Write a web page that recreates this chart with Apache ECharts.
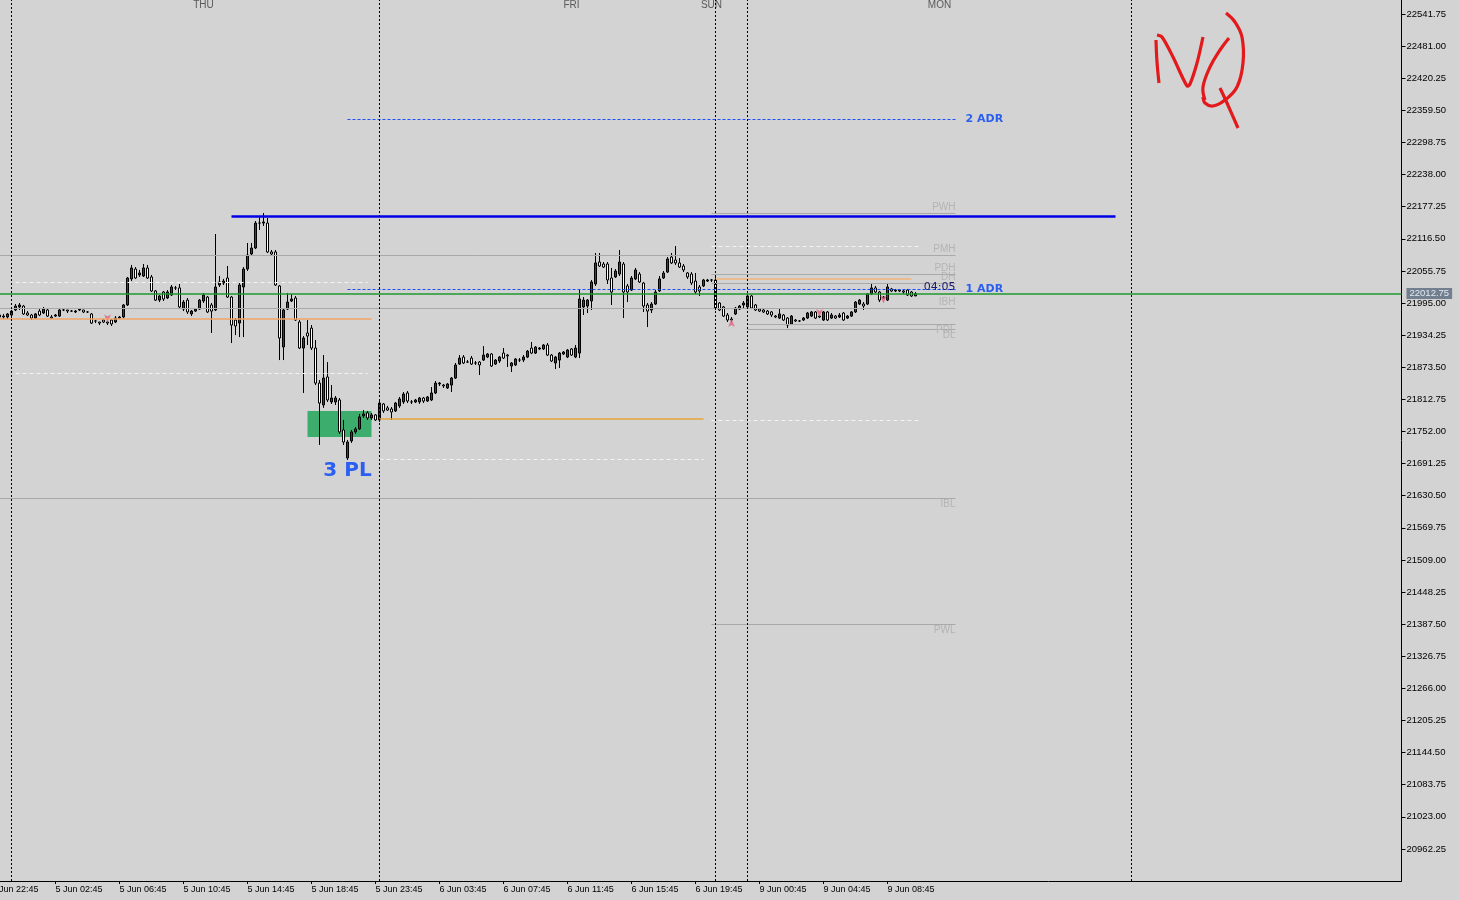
<!DOCTYPE html>
<html><head><meta charset="utf-8">
<script src="https://cdn.jsdelivr.net/npm/echarts@6/dist/echarts.min.js"></script>
<style>html,body{margin:0;padding:0;background:#d3d3d3;overflow:hidden;width:1459px;height:900px;position:relative}#c{position:absolute;left:-20px;top:0;width:1479px;height:900px}</style>
</head><body><div id="c"></div>
<script>
// ---- bar slots (15-minute bars); slot 0 = 4 Jun 22:45 ----
const slotCount = 353;
const firstBar = 2;
const tickStep = 16;
const tickLabels = ['4 Jun 22:45','5 Jun 02:45','5 Jun 06:45','5 Jun 10:45','5 Jun 14:45','5 Jun 18:45','5 Jun 23:45','6 Jun 03:45','6 Jun 07:45','6 Jun 11:45','6 Jun 15:45','6 Jun 19:45','9 Jun 00:45','9 Jun 04:45','9 Jun 08:45'];
const dayNames = ['THU','FRI','SUN','MON'];
const dayNameSlots = [53,145,180,237];
const separatorSlots = [5,97,181,189,285];

// ---- OHLC ----
const opens = [
21972.25,21968.5,21968.5,21972.25,21981.75,21987.5,21989.25,21976,21972.25,21966.5,
21979.75,21976,21981.75,21968.5,21970.25,21970.25,21981.75,21981.75,21979.75,21978,
21981.75,21981.75,21978,21974.25,21961,21959,21962.75,21959,21962.75,21959,
21966.5,21968.5,21991.25,22040.5,22059.25,22048,22046,22061.25,22044.25,22017.75,
22000.5,22015.75,22004.5,22010,22023.5,22023.5,21983.5,22000.5,21974.25,21979.75,
21983.5,21998.75,22006.25,21991.25,21981.75,22029,22032.75,22042.25,22006.25,21962.75,
21957,22025.25,22059.25,22087.75,22099,22146.25,22146.25,22146.25,22091.5,22091.5,
22027.25,21911.75,21983.5,21998.75,22004.5,21959,21909.75,21938.25,21947.5,21909.75,
21843.5,21802,21855,21807.75,21807.75,21811.5,21754.75,21701.75,21734,21751,
21756.75,21781.25,21787,21777.5,21783.25,21773.75,21804,21796.5,21794.5,21790.75,
21800.25,21807.75,21824.75,21807.75,21807.75,21807.75,21815.25,21809.5,21811.5,21824.75,
21841.75,21839.75,21834.25,21839.75,21853,21879.5,21892.75,21883.25,21890.75,21881.5,
21883.25,21887,21892.75,21898.5,21879.5,21885.25,21900.25,21896.5,21875.75,21877.75,
21887,21887,21892.75,21909.75,21900.25,21908,21908,21915.5,21896.5,21881.5,
21887,21898.5,21892.75,21908,21892.75,21900.25,21987.5,21989.25,21998.75,22031,
22072.5,22068.75,22068.75,22042.25,22044.25,22049.75,22068.75,22027.25,22019.5,22040.5,
22049.75,22032.75,21991.25,21981.75,21993,22017.75,22042.25,22053.5,22082,22076.25,
22070.75,22065,22051.75,22049.75,22036.5,22025.25,22027.25,22036.5,22038.5,22038.5,
21995,21987.5,21972.25,21962.75,21974.25,21983.5,21991.25,21987.5,22008.25,21991.25,
21983.5,21981.75,21979.75,21978,21970.25,21966.5,21972.25,21966.5,21955.25,21962.75,
21961,21962.75,21966.5,21970.25,21978,21968.5,21962.75,21978,21966.5,21970.25,
21968.5,21976,21966.5,21970.25,21978,21993,21993,21993,22012,22023.5,
22015.75,22004.5,22000.5,22021.5,22017.75,22019.5,22017.75,22019.5,22015.75,22008.25];
const closes = [
21968.5,21970.25,21974.25,21979.75,21989.25,21991.25,21974.25,21972.25,21966.5,21974.25,
21972.25,21983.5,21970.25,21966.5,21972.25,21981.75,21981.75,21979.75,21979.75,21979.75,
21983.5,21978,21978,21957,21961,21957,21959,21957,21955.25,21966.5,
21968.5,21991.25,22042.25,22061.25,22042.25,22051.75,22061.25,22042.25,22017.75,22000.5,
22008.25,22002.5,22015.75,22025.25,22023.5,21987.5,21996.75,21978,21979.75,21983.5,
22000.5,22010,21978,21979.75,22025.25,22034.75,22036.5,22006.25,21953.25,21951.5,
22029,22059.25,22085.75,22099,22146.25,22146.25,22148.25,22091.5,22087.75,22029,
21928.75,21981.75,21996.75,22002.5,21962.75,21909.75,21928.75,21932.5,21909.75,21843.5,
21805.75,21853,21811.5,21815.25,21815.25,21751,21732,21732,21751,21756.75,
21779.5,21785,21777.5,21783.25,21773.75,21805.75,21790.75,21792.5,21788.75,21805.75,
21813.5,21822.75,21809.5,21807.75,21811.5,21815.25,21809.5,21817.25,21824.75,21843.5,
21843.5,21838,21841.75,21853,21877.75,21890.75,21881.5,21883.25,21879.5,21881.5,
21877.75,21896.5,21898.5,21875.75,21887,21892.75,21890.75,21894.75,21881.5,21889,
21887,21892.75,21904,21900.25,21911.75,21909.75,21915.5,21896.5,21885.25,21892.75,
21900.25,21902.25,21906,21896.5,21909.75,22002.5,22000.5,22000.5,22034.75,22070.75,
22065,22063,22038.5,22015.75,22055.5,22072.5,22015.75,22015.75,22042.25,22057.5,
22034.75,21989.25,21979.75,21993,22015.75,22040.5,22051.75,22078.25,22070.75,22070.75,
22063,22057.5,22044.25,22032.75,22015.75,22017.75,22038.5,22038.5,22038.5,21985.5,
21981.75,21970.25,21962.75,21964.75,21985.5,21989.25,21995,22008.25,21985.5,21981.75,
21979.75,21978,21974.25,21972.25,21968.5,21974.25,21962.75,21953.25,21970.25,21961,
21961,21966.5,21976,21978,21966.5,21970.25,21978,21962.75,21972.25,21966.5,
21972.25,21962.75,21970.25,21978,21996.75,22000.5,21989.25,22012,22023.5,22015.75,
22000.5,22006.25,22025.25,22017.75,22019.5,22017.75,22015.75,22010,22008.25,22012.75];
const lows = [
21964.75,21964.75,21964.75,21966.5,21979.75,21981.75,21972.25,21970.25,21962.75,21964.75,
21970.25,21974.25,21968.5,21964.75,21968.5,21968.5,21979.75,21976,21978,21976,
21979.75,21976,21976,21955.25,21957,21953.25,21957,21953.25,21951.5,21957,
21964.75,21966.5,21989.25,22036.5,22040.5,22044.25,22044.25,22040.5,22015.75,21998.75,
21996.75,21998.75,22002.5,22008.25,22019.5,21983.5,21979.75,21974.25,21970.25,21978,
21981.75,21995,21976,21938.25,21979.75,22025.25,22029,22004.5,21919.25,21934.25,
21930.5,21930.5,22055.5,22084,22097,22133,22140.75,22089.5,22085.75,22027.25,
21887,21887,21981.75,21996.75,21961,21908,21824.75,21915.5,21906,21839.75,
21726.5,21796.5,21807.75,21804,21802,21747.25,21726.5,21698,21730.25,21747.25,
21754.75,21777.5,21773.75,21773.75,21771.75,21770,21787,21790.75,21773.75,21788.75,
21796.5,21804,21805.75,21804,21805.75,21804,21805.75,21807.75,21809.5,21822.75,
21838,21834.25,21832.25,21826.5,21851.25,21877.75,21879.5,21881.5,21877.75,21877.75,
21858.75,21885.25,21890.75,21874,21877.75,21881.5,21889,21874,21864.5,21875.75,
21883.25,21883.25,21890.75,21898.5,21898.5,21906,21906,21894.75,21883.25,21870,
21872,21896.5,21890.75,21894.75,21890.75,21890.75,21972.25,21976,21981.75,22027.25,
22063,22061.25,22031,21991.25,22042.25,22046,21966.5,21996.75,22017.75,22038.5,
22032.75,21978,21949.5,21976,21991.25,22015.75,22040.5,22051.75,22068.75,22067,
22061.25,22053.5,22040.5,22029,22012,22008.25,22025.25,22034.75,22034.75,21981.75,
21979.75,21968.5,21959,21959,21972.25,21981.75,21985.5,21983.5,21983.5,21979.75,
21978,21976,21972.25,21968.5,21966.5,21964.75,21961,21947.5,21953.25,21959,
21959,21961,21964.75,21968.5,21964.75,21966.5,21961,21961,21964.75,21964.75,
21966.5,21961,21964.75,21968.5,21976,21991.25,21981.75,21991.25,22010,22014,
21996.75,22002.5,21998.75,22015.75,22015.75,22015.75,22012,22008.25,22006.25,22008.25];
const highs = [
21976,21974.25,21976,21981.75,21993,21995,21991.25,21979.75,21974.25,21976,
21983.5,21987.5,21983.5,21972.25,21974.25,21983.5,21983.5,21981.75,21981.75,21981.75,
21985.5,21981.75,21979.75,21976,21962.75,21959,21964.75,21961,21964.75,21970.25,
21970.25,21993,22044.25,22067,22063,22057.5,22068.75,22067,22048,22019.5,
22010,22017.75,22019.5,22029,22027.25,22031,22000.5,22004.5,21981.75,21985.5,
22002.5,22014,22008.25,21995,22125.5,22046,22040.5,22065,22008.25,21966.5,
22032.75,22063,22108.5,22108.5,22150,22157.75,22165.25,22155.75,22095.25,22095.25,
22029,21985.5,22014,22012,22008.25,21962.75,21932.5,21962.75,21953.25,21925,
21849.25,21896.5,21883.25,21839.75,21819,21815.25,21773.75,21735.75,21754.75,21760.5,
21785,21792.5,21790.75,21787,21785,21809.5,21805.75,21800.25,21798.25,21807.75,
21817.25,21826.5,21828.5,21811.5,21813.5,21817.25,21817.25,21819,21836,21847.5,
21845.5,21841.75,21843.5,21855,21881.5,21896.5,21896.5,21887,21894.75,21885.25,
21885.25,21913.5,21900.25,21900.25,21889,21894.75,21909.75,21898.5,21883.25,21890.75,
21890.75,21896.5,21906,21921.25,21913.5,21911.75,21917.25,21919.25,21898.5,21894.75,
21902.25,21904,21908,21909.75,21915.5,22021.5,22006.25,22002.5,22038.5,22089.5,
22089.5,22072.5,22072.5,22061.25,22059.25,22095.25,22072.5,22031,22046,22061.25,
22053.5,22034.75,21995,21996.75,22019.5,22046,22055.5,22082,22089.5,22102.75,
22080,22068.75,22053.5,22053.5,22051.75,22029,22040.5,22040.5,22040.5,22044.25,
21996.75,21989.25,21976,21968.5,21987.5,21991.25,21998.75,22012,22010,21993,
21985.5,21983.5,21981.75,21979.75,21972.25,21985.5,21974.25,21968.5,21972.25,21964.75,
21962.75,21968.5,21978,21979.75,21979.75,21972.25,21979.75,21979.75,21976,21972.25,
21976,21978,21972.25,21979.75,21998.75,22002.5,21996.75,22014,22031,22027.25,
22017.75,22008.25,22031,22023.5,22021.5,22021.5,22019.5,22021.5,22017.75,22015.75];

// ---- price levels ----
const bidPrice = 22012.75;
const greyLevelNames  = ['PWH','PMH','PDH','DH','IBH','PDL','DL','IBL','PWL'];
const greyLevelPrices = [22165.25,22085,22049.25,22033,21985,21955.25,21944.5,21626,21387.75];
const greyLevelFrom   = [180,0,180,180,0,189,189,0,180];
const greyLevelTo     = [241,241,241,241,241,241,241,241,241];
const greyLabelAbove  = [true,true,true,true,true,false,false,false,false];
const whiteDashPrices = [22101.5,22033.5,21863,21773,21700];
const whiteDashFrom   = [180,6,6,180,97];
const whiteDashTo     = [232,94,94,232,178];
const orangePrices = [22041.5,21966,21776.5];
const orangeFrom   = [181,0,97];
const orangeTo     = [230,95,178];
const adrNames  = ['2 ADR','1 ADR'];
const adrPrices = [22342.1,22020.5];
const adrFrom = 89, adrTo = 241;
const weekHighLine = {price: 22158.25, from: 60, to: 281};
const zoneBars = [79,95];
const zonePrices = [21790.75,21741.5];
const zoneText = '3 PL';
const zoneTextAt = [89,21677];
const timerText = '04:05';
const timerAt = [241,22024.3];
const arrowBars   = [29,185,207,223];
const arrowPrices = [21958,21964.75,21968.5,21994];
const arrowUp     = [false,true,false,false];

// ---- build ----
const slots = Array.from({length: slotCount}, (_, i) => String(i));
const candleData = slots.map((s, i) => {
  const j = i - firstBar;
  return (j >= 0 && j < opens.length) ? [opens[j], closes[j], lows[j], highs[j]] : '-';
});
function seg(price, from, to, lineStyle, label) {
  return [{coord: [from, price], lineStyle: lineStyle, label: label || {show: false}}, {coord: [to, price]}];
}
const lines = [];
greyLevelNames.forEach((n, i) => {
  lines.push(seg(greyLevelPrices[i], greyLevelFrom[i], greyLevelTo[i],
    {color: '#a9a9a9', width: 1, type: 'solid'},
    {show: true, formatter: n, position: greyLabelAbove[i] ? 'insideEndTop' : 'insideEndBottom',
     distance: [0, 1], color: '#b4b4b4', fontSize: 10, fontFamily: 'Liberation Sans'}));
});
whiteDashPrices.forEach((p, i) => lines.push(seg(p, whiteDashFrom[i], whiteDashTo[i], {color: '#f4f4f4', width: 1, type: [4, 3]})));
const orangeColors = ['#f3b677', '#f2a468', '#e6a43c'];
orangePrices.forEach((p, i) => lines.push(seg(p, orangeFrom[i], orangeTo[i], {color: orangeColors[i], width: 1.5, type: 'solid'})));
adrNames.forEach((n, i) => lines.push(seg(adrPrices[i], adrFrom, adrTo, {color: '#1f4dff', width: 1.2, type: [3, 2]},
  {show: true, formatter: n, position: 'end', distance: 10, color: '#2a5ef0', fontSize: 11, fontWeight: 'bold', fontFamily: 'DejaVu Sans'})));
lines.push(seg(weekHighLine.price, weekHighLine.from, weekHighLine.to, {color: '#0000e6', width: 2.5, type: 'solid'}));
lines.push({yAxis: bidPrice, lineStyle: {color: '#1f9a2e', width: 1.5, type: 'solid'},
  label: {show: true, position: 'end', distance: 5, formatter: bidPrice.toFixed(2), backgroundColor: '#717f8e',
          color: '#e4eaf2', padding: [1, 3, 0, 3], fontSize: 9.5, fontFamily: 'Liberation Sans'}});
separatorSlots.forEach(s => lines.push({xAxis: s, lineStyle: {color: '#000', width: 1, type: [2, 2]}, label: {show: false}}));

const isTick = (i) => i % tickStep === 0 && i / tickStep < tickLabels.length;
const isDay = (i) => dayNameSlots.indexOf(i) >= 0;

const option = {
  backgroundColor: '#d3d3d3',
  animation: false,
  grid: {left: 9.5, right: 57.5, top: 0, bottom: 19, containLabel: false},
  xAxis: [{
    type: 'category', data: slots, boundaryGap: true,
    axisLine: {show: true, lineStyle: {color: '#000', width: 1}},
    axisTick: {show: true, alignWithLabel: true, interval: isTick, length: 3, lineStyle: {color: '#000'}},
    axisLabel: {interval: isTick, formatter: (v, i) => tickLabels[i / tickStep], align: 'left',
                color: '#000', fontSize: 9, fontFamily: 'Liberation Sans', margin: 4},
    splitLine: {show: false}
  }, {
    type: 'category', data: slots, boundaryGap: true, position: 'top',
    axisLine: {show: false}, axisTick: {show: false}, splitLine: {show: false},
    axisLabel: {inside: true, interval: isDay, formatter: (v, i) => dayNames[dayNameSlots.indexOf(i)] || '',
                color: '#5a5a5a', fontSize: 10, fontFamily: 'Liberation Sans', margin: 0, verticalAlign: 'top'}
  }],
  yAxis: {
    type: 'value', position: 'right', min: 20901.5, max: 22568.2, interval: 60.75,
    axisLine: {show: true, lineStyle: {color: '#000'}},
    axisTick: {show: true, length: 4, lineStyle: {color: '#000'}},
    splitLine: {show: false},
    axisLabel: {formatter: v => v.toFixed(2), color: '#000', fontSize: 9.5, fontFamily: 'Liberation Sans',
                margin: 5, showMinLabel: false, showMaxLabel: false}
  },
  series: [{
    type: 'line', data: [], z: 1, silent: true,
    markArea: {silent: true, itemStyle: {color: '#3cad6c', opacity: 1},
      data: [[{coord: [zoneBars[0], zonePrices[0]]}, {coord: [zoneBars[1], zonePrices[1]]}]]},
    markLine: {silent: true, symbol: ['none', 'none'], animation: false, data: lines},
    markPoint: {silent: true, symbol: 'rect', symbolSize: 1, itemStyle: {color: 'rgba(0,0,0,0)'},
      data: [
        {coord: zoneTextAt, label: {show: true, position: 'inside', formatter: zoneText, color: '#2b5ef2',
          fontSize: 20, fontWeight: 'bold', fontFamily: 'DejaVu Sans'}},
        {coord: timerAt, label: {show: true, position: 'inside', align: 'right', formatter: timerText, color: '#1c1c6e',
          fontSize: 11, fontFamily: 'DejaVu Sans'}}
      ]}
  }, {
    type: 'candlestick', data: candleData, barWidth: 3, barMaxWidth: 3, z: 3, silent: true,
    itemStyle: {color: '#2f4a45', color0: '#ffffff', borderColor: '#000', borderColor0: '#000', borderWidth: 1}
  }, {
    type: 'scatter', z: 4, silent: true, symbol: 'arrow', symbolSize: [5, 8],
    itemStyle: {color: '#e0607c'},
    data: arrowBars.map((b, i) => ({value: [b, arrowPrices[i]], symbolRotate: arrowUp[i] ? 0 : 180}))
  }],
  graphic: [{
    type: 'group', x: 20, silent: true,
    children: [
      {type: 'polyline', shape: {points: [[1156,40],[1157,62],[1159,83]], smooth: 0.4}, style: {stroke: '#e3191c', lineWidth: 3.2, fill: null}},
      {type: 'polyline', shape: {points: [[1157,35],[1162,37],[1173,57],[1187,86],[1190,84],[1197,63],[1203,37]], smooth: 0.3}, style: {stroke: '#e3191c', lineWidth: 3.2, fill: null}},
      {type: 'polyline', shape: {points: [[1226,13],[1235,22],[1242,37],[1243,63],[1237,87],[1225,100],[1213,106],[1205,103],[1203,97]], smooth: 0.4}, style: {stroke: '#e3191c', lineWidth: 3.2, fill: null}},
      {type: 'polyline', shape: {points: [[1229,38],[1220,50],[1210,67],[1203,87],[1205,100]], smooth: 0.4}, style: {stroke: '#e3191c', lineWidth: 3.2, fill: null}},
      {type: 'polyline', shape: {points: [[1220,88],[1227,103],[1238,128]], smooth: 0.3}, style: {stroke: '#e3191c', lineWidth: 3.2, fill: null}}
    ]
  }]
};
const chart = echarts.init(document.getElementById('c'));
chart.setOption(option);
</script>
</body></html>
